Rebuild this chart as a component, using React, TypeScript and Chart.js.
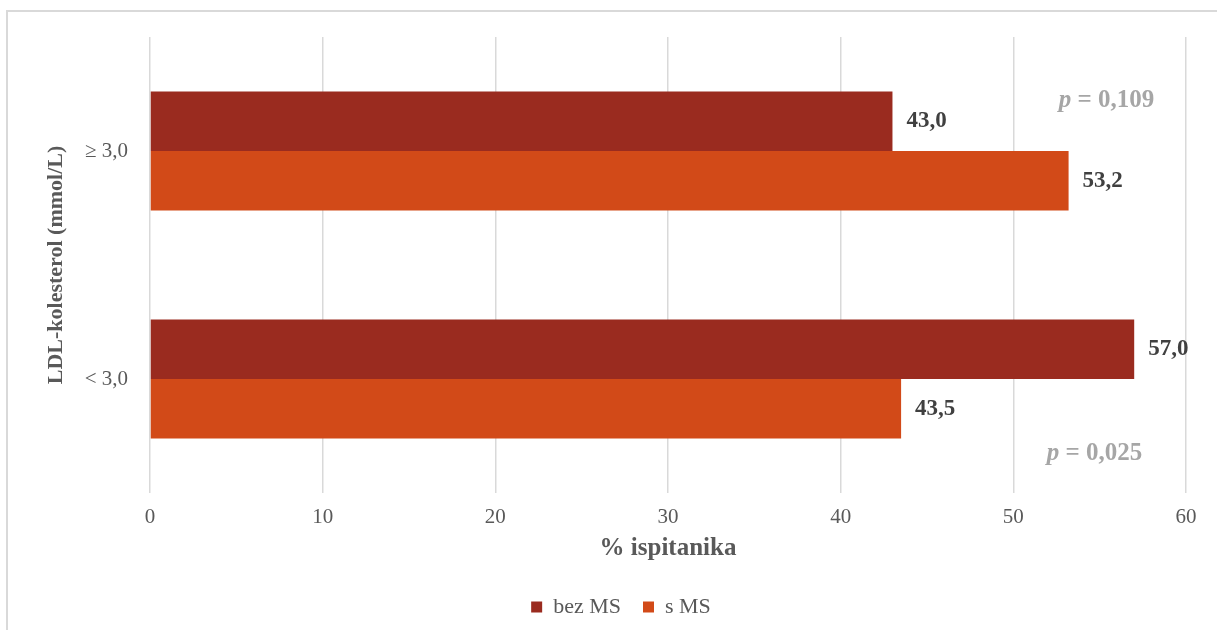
import React, { useEffect, useRef } from "react";
import { Chart, registerables } from "chart.js";

Chart.register(...registerables);

const categories = ["≥ 3,0", "< 3,0"];
const seriesNames = ["bez MS", "s MS"];
const bezMS = [43.0, 57.0];
const sMS = [53.2, 43.5];
const pValues = ["0,109", "0,025"];
const xTicks = [0, 10, 20, 30, 40, 50, 60];

const COLORS = ["#9a2b1f", "#d24a18"];
const SERIF = "'Liberation Serif', 'Times New Roman', serif";

const fmt = (v: number) => v.toFixed(1).replace(".", ",");

const dataLabelPlugin = {
  id: "dataLabels",
  afterDatasetsDraw(chart: any) {
    const ctx = chart.ctx;
    ctx.save();
    ctx.font = `bold 23px ${SERIF}`;
    ctx.fillStyle = "#404040";
    ctx.textAlign = "left";
    ctx.textBaseline = "middle";
    chart.data.datasets.forEach((ds: any, di: number) => {
      const meta = chart.getDatasetMeta(di);
      meta.data.forEach((el: any, i: number) => {
        ctx.fillText(fmt(ds.data[i]), el.x + 14, el.y);
      });
    });
    ctx.restore();
  },
};

const pValuePlugin = {
  id: "pValues",
  afterDraw(chart: any) {
    const ctx = chart.ctx;
    const xs = chart.scales.x;
    const ys = chart.scales.y;
    const placements = [
      { xv: 55.4, dy: -50 },
      { xv: 54.7, dy: 75 },
    ];
    ctx.save();
    ctx.fillStyle = "#a6a6a6";
    ctx.textBaseline = "middle";
    ctx.textAlign = "left";
    pValues.forEach((pv, i) => {
      const cx = xs.getPixelForValue(placements[i].xv);
      const cy = ys.getPixelForValue(i) + placements[i].dy;
      const italic = `italic bold 25px ${SERIF}`;
      const bold = `bold 25px ${SERIF}`;
      ctx.font = italic;
      const w1 = ctx.measureText("p").width;
      ctx.font = bold;
      const rest = " = " + pv;
      const w2 = ctx.measureText(rest).width;
      const start = cx - (w1 + w2) / 2;
      ctx.font = italic;
      ctx.fillText("p", start, cy);
      ctx.font = bold;
      ctx.fillText(rest, start + w1, cy);
    });
    ctx.restore();
  },
};

const legendShiftPlugin = {
  id: "legendShift",
  afterLayout(chart: any) {
    const lg = chart.legend;
    if (lg) {
      lg.left += 28;
      lg.right += 28;
    }
  },
};

export default function App() {
  const ref = useRef<HTMLCanvasElement>(null);

  useEffect(() => {
    if (!ref.current) return;
    Chart.defaults.font.family = SERIF;
    const chart = new Chart(ref.current, {
      type: "bar",
      data: {
        labels: categories,
        datasets: [
          {
            label: seriesNames[0],
            data: bezMS,
            backgroundColor: COLORS[0],
            borderWidth: 0,
          },
          {
            label: seriesNames[1],
            data: sMS,
            backgroundColor: COLORS[1],
            borderWidth: 0,
          },
        ],
      },
      options: {
        indexAxis: "y",
        responsive: false,
        animation: false,
        layout: { padding: { top: 37, right: 31, bottom: 2, left: 0 } },
        datasets: {
          bar: { barPercentage: 1, categoryPercentage: 0.523 },
        },
        plugins: {
          tooltip: { enabled: false },
          legend: {
            position: "bottom",
            labels: {
              boxWidth: 11,
              boxHeight: 11,
              padding: 22,
              color: "#595959",
              font: { size: 22, family: SERIF },
            },
          },
        },
        scales: {
          x: {
            min: 0,
            max: 60,
            afterBuildTicks: (scale: any) => {
              scale.ticks = xTicks.map((v) => ({ value: v }));
            },
            afterFit: (scale: any) => {
              scale.height = 81;
            },
            ticks: {
              color: "#595959",
              font: { size: 21, family: SERIF },
              padding: 12,
            },
            grid: {
              color: "#d9d9d9",
              lineWidth: 1.5,
              drawTicks: false,
            },
            border: { display: false },
            title: {
              display: true,
              text: "% ispitanika",
              color: "#595959",
              font: { size: 25, weight: "bold", family: SERIF },
              padding: { top: 0, bottom: 10 },
            },
          },
          y: {
            afterFit: (scale: any) => {
              scale.width = 150;
            },
            ticks: {
              color: "#595959",
              font: { size: 21, family: SERIF },
              padding: 22,
            },
            grid: { display: false, drawTicks: false },
            border: { display: false },
            title: {
              display: true,
              text: "LDL-kolesterol (mmol/L)",
              color: "#595959",
              font: { size: 22, weight: "bold", family: SERIF },
              padding: { top: 43, bottom: 0 },
            },
          },
        },
      },
      plugins: [dataLabelPlugin, pValuePlugin, legendShiftPlugin],
    } as any);
    return () => chart.destroy();
  }, []);

  return (
    <div
      style={{
        position: "fixed",
        left: 0,
        top: 0,
        width: 1217,
        height: 630,
        background: "#ffffff",
        overflow: "hidden",
      }}
    >
      <div
        style={{
          position: "absolute",
          left: 6,
          top: 10,
          width: 1230,
          height: 640,
          borderTop: "2px solid #d9d9d9",
          borderLeft: "2px solid #d9d9d9",
        }}
      />
      <canvas
        ref={ref}
        width={1217}
        height={630}
        style={{ position: "absolute", left: 0, top: 0, width: 1217, height: 630 }}
      />
    </div>
  );
}
